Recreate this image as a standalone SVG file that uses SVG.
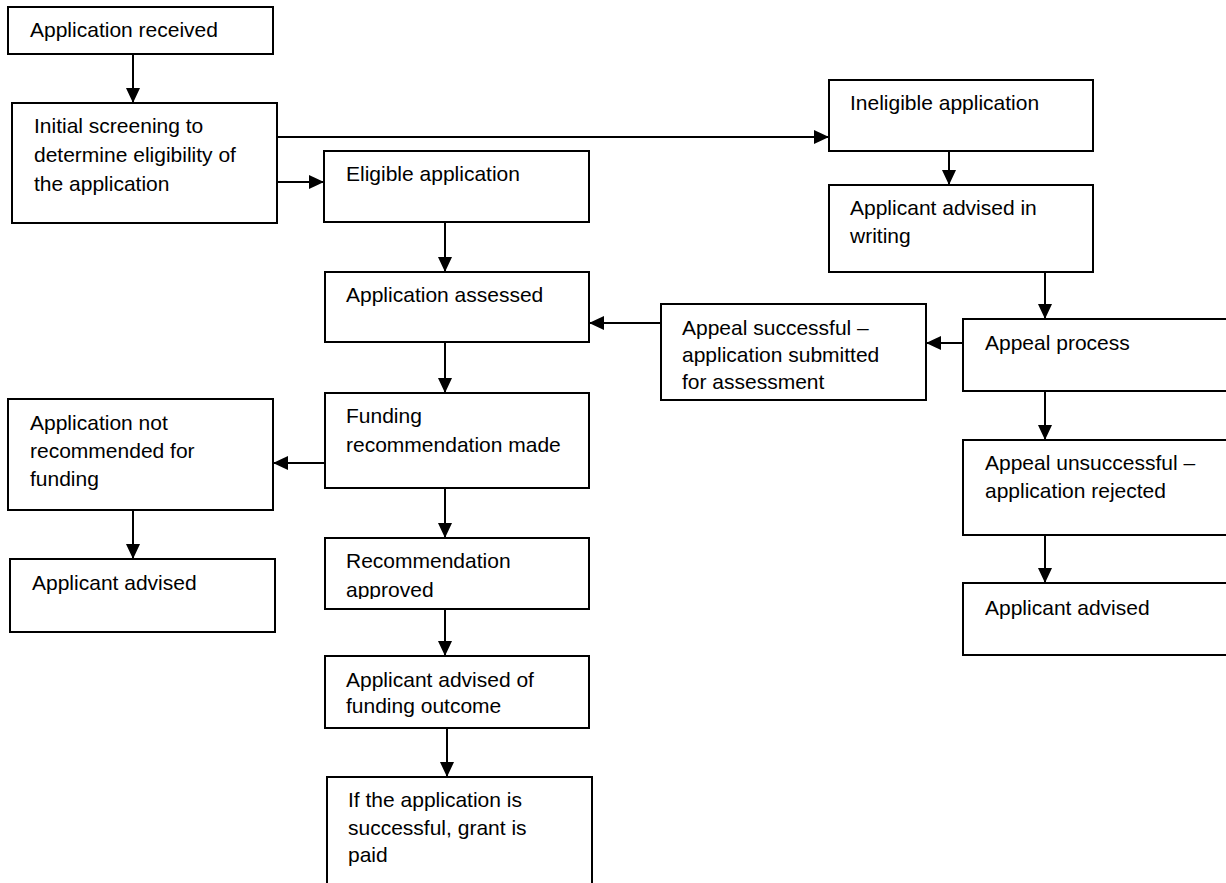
<svg xmlns="http://www.w3.org/2000/svg" width="1226" height="883" viewBox="0 0 1226 883">
<style>
.box{fill:#fff;stroke:#000;stroke-width:2}
.t{font-family:"Liberation Sans",Arial,sans-serif;font-size:21px;fill:#000}
.c{stroke:#000;stroke-width:2;fill:none;marker-end:url(#ah)}
</style>
<defs>
<marker id="ah" markerUnits="userSpaceOnUse" markerWidth="16" markerHeight="14" refX="15" refY="7" orient="auto">
<path d="M0,0 L15,7 L0,14 z" fill="#000"/>
</marker>
<clipPath id="clipL"><rect x="325" y="538" width="264" height="61"/></clipPath>
<clipPath id="clipM"><rect x="325" y="656" width="264" height="61"/></clipPath>
</defs>
<rect width="1226" height="883" fill="#fff"/>
<g id="connectors">
<line class="c" x1="133" y1="54" x2="133" y2="103"/>
<line class="c" x1="277" y1="182" x2="324" y2="182"/>
<line class="c" x1="277" y1="137" x2="829" y2="137"/>
<line class="c" x1="949" y1="151" x2="949" y2="185"/>
<line class="c" x1="1045" y1="272" x2="1045" y2="319"/>
<line class="c" x1="963" y1="343" x2="926" y2="343"/>
<line class="c" x1="445" y1="222" x2="445" y2="272"/>
<line class="c" x1="661" y1="323" x2="589" y2="323"/>
<line class="c" x1="445" y1="342" x2="445" y2="393"/>
<line class="c" x1="325" y1="463" x2="273" y2="463"/>
<line class="c" x1="133" y1="510" x2="133" y2="559"/>
<line class="c" x1="445" y1="488" x2="445" y2="538"/>
<line class="c" x1="445" y1="609" x2="445" y2="656"/>
<line class="c" x1="447" y1="728" x2="447" y2="777"/>
<line class="c" x1="1045" y1="391" x2="1045" y2="440"/>
<line class="c" x1="1045" y1="535" x2="1045" y2="583"/>
</g>
<g id="n-received"><rect class="box" x="8" y="7" width="265" height="47"/><text class="t" x="30" y="37">Application received</text></g>
<g id="n-screening"><rect class="box" x="12" y="103" width="265" height="120"/><text class="t" x="34" y="133">Initial screening to</text><text class="t" x="34" y="162">determine eligibility of</text><text class="t" x="34" y="191">the application</text></g>
<g id="n-eligible"><rect class="box" x="324" y="151" width="265" height="71"/><text class="t" x="346" y="181">Eligible application</text></g>
<g id="n-ineligible"><rect class="box" x="829" y="80" width="264" height="71"/><text class="t" x="850" y="110">Ineligible application</text></g>
<g id="n-writing"><rect class="box" x="829" y="185" width="264" height="87"/><text class="t" x="850" y="215">Applicant advised in</text><text class="t" x="850" y="243">writing</text></g>
<g id="n-appeal"><rect class="box" x="963" y="319" width="280" height="72"/><text class="t" x="985" y="350">Appeal process</text></g>
<g id="n-appeal-ok"><rect class="box" x="661" y="304" width="265" height="96"/><text class="t" x="682" y="335">Appeal successful –</text><text class="t" x="682" y="362">application submitted</text><text class="t" x="682" y="389">for assessment</text></g>
<g id="n-assessed"><rect class="box" x="325" y="272" width="264" height="70"/><text class="t" x="346" y="302">Application assessed</text></g>
<g id="n-recommend"><rect class="box" x="325" y="393" width="264" height="95"/><text class="t" x="346" y="423">Funding</text><text class="t" x="346" y="452">recommendation made</text></g>
<g id="n-notrec"><rect class="box" x="8" y="399" width="265" height="111"/><text class="t" x="30" y="430">Application not</text><text class="t" x="30" y="458">recommended for</text><text class="t" x="30" y="486">funding</text></g>
<g id="n-advised-left"><rect class="box" x="10" y="559" width="265" height="73"/><text class="t" x="32" y="590">Applicant advised</text></g>
<g id="n-approved"><rect class="box" x="325" y="538" width="264" height="71"/><g clip-path="url(#clipL)"><text class="t" x="346" y="568">Recommendation</text><text class="t" x="346" y="597">approved</text></g></g>
<g id="n-outcome"><rect class="box" x="325" y="656" width="264" height="72"/><g clip-path="url(#clipM)"><text class="t" x="346" y="687">Applicant advised of</text><text class="t" x="346" y="713">funding outcome</text></g></g>
<g id="n-paid"><rect class="box" x="327" y="777" width="265" height="130"/><text class="t" x="348" y="807">If the application is</text><text class="t" x="348" y="835">successful, grant is</text><text class="t" x="348" y="862">paid</text></g>
<g id="n-appeal-fail"><rect class="box" x="963" y="440" width="280" height="95"/><text class="t" x="985" y="470">Appeal unsuccessful –</text><text class="t" x="985" y="498">application rejected</text></g>
<g id="n-advised-right"><rect class="box" x="963" y="583" width="280" height="72"/><text class="t" x="985" y="615">Applicant advised</text></g>
</svg>
